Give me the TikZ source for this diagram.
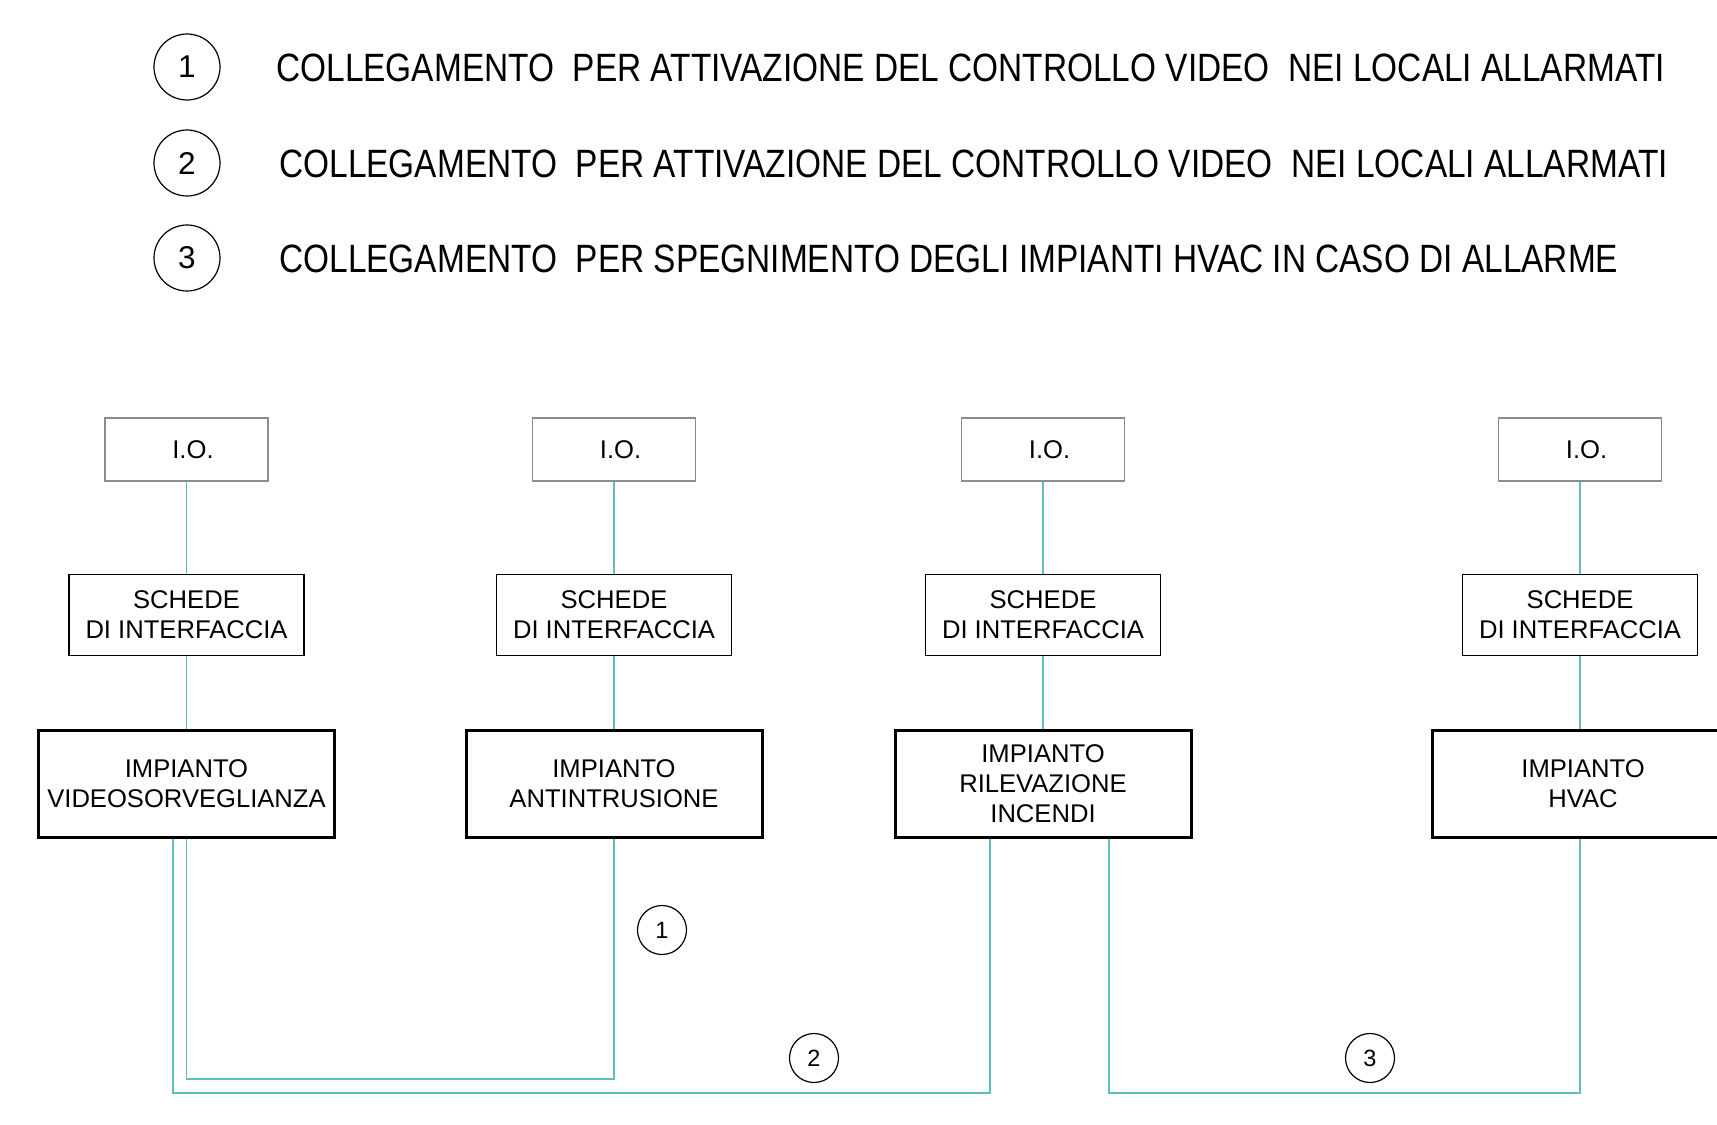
\documentclass[tikz,border=0pt]{standalone}
\usepackage{fontspec}
\setmainfont{Liberation Sans}
\usetikzlibrary{positioning}
\definecolor{linkcol}{RGB}{95,190,190}
\tikzset{
	iobox/.style={draw=black!45, line width=0.75pt, minimum width=81.5pt, minimum height=31.5pt, inner sep=0pt, font=\fontsize{12.8}{15}\selectfont},
	cardbox/.style={draw, line width=0.7pt, minimum width=117.5pt, minimum height=40.5pt, inner sep=0pt, align=center, font=\fontsize{12.8}{15}\selectfont},
	plantbox/.style={draw, line width=1.5pt, minimum width=148pt, minimum height=53.5pt, inner sep=0pt, align=center, font=\fontsize{12.8}{15}\selectfont},
	link/.style={draw=linkcol, line width=0.75pt},
	legnum/.style={circle, draw, line width=0.6pt, minimum size=33pt, inner sep=0pt, font=\fontsize{15.75}{18}\selectfont},
	tag/.style={circle, draw, line width=0.6pt, minimum size=24.5pt, inner sep=0pt, font=\fontsize{11.75}{14}\selectfont},
	legtext/.style={anchor=west, inner sep=0pt, xscale=0.846, transform shape, font=\fontsize{19.75}{22}\selectfont}
}

\begin{document}
\begin{tikzpicture}[x=0.5pt, y=-0.5pt, node distance=46pt]
	\useasboundingbox (0,0) rectangle (1717,1124);
	% legend
	\node[legnum] (n1) at (187,67) {1};
	\node[legnum] (n2) at (187,163) {2};
	\node[legnum] (n3) at (187,258) {3};
	\node[legtext] (t1) at (276,68) {COLLEGAMENTO\ \ PER ATTIVAZIONE DEL CONTROLLO VIDEO\ \ NEI LOCALI ALLARMATI};
	\node[legtext] (t2) at (279,164) {COLLEGAMENTO\ \ PER ATTIVAZIONE DEL CONTROLLO VIDEO\ \ NEI LOCALI ALLARMATI};
	\node[legtext] (t3) at (279,259) {COLLEGAMENTO\ \ PER SPEGNIMENTO DEGLI IMPIANTI HVAC IN CASO DI ALLARME};
	% columns
	\node[iobox] (io1) at (186.5,449.5) {\hspace{6.5pt}I.O.};
	\node[iobox] (io2) at (614,449.5) {\hspace{6.5pt}I.O.};
	\node[iobox] (io3) at (1043,449.5) {\hspace{6.5pt}I.O.};
	\node[iobox] (io4) at (1580,449.5) {\hspace{6.5pt}I.O.};
	\node[cardbox, below=of io1] (sch1) {SCHEDE\\DI INTERFACCIA};
	\node[cardbox, below=of io2] (sch2) {SCHEDE\\DI INTERFACCIA};
	\node[cardbox, below=of io3] (sch3) {SCHEDE\\DI INTERFACCIA};
	\node[cardbox, below=of io4] (sch4) {SCHEDE\\DI INTERFACCIA};
	\node[plantbox, below=36.4pt of sch1] (imp1) {IMPIANTO\\VIDEOSORVEGLIANZA};
	\node[plantbox, below=36.4pt of sch2] (imp2) {IMPIANTO\\ANTINTRUSIONE};
	\node[plantbox, below=36.4pt of sch3] (imp3) {IMPIANTO\\RILEVAZIONE\\INCENDI};
	\node[plantbox, below=36.4pt of sch4] (imp4) {\hspace{3pt}IMPIANTO\\\hspace{3pt}HVAC};
	\foreach \i in {1,...,4}{
		\draw[link] (io\i) -- (sch\i);
		\draw[link] (sch\i) -- (imp\i);
	}
	% connections
	\coordinate (low1) at (0,1079);
	\coordinate (low2) at (0,1093);
	\coordinate (v2) at ([xshift=-6.75pt]imp1.south);
	\coordinate (f1) at ([xshift=-26.5pt]imp3.south);
	\coordinate (f2) at ([xshift=33pt]imp3.south);
	\draw[link] (imp1.south) |- (imp2.south |- low1) -- (imp2.south);
	\draw[link] (v2) |- (f1 |- low2) -- (f1);
	\draw[link] (f2) |- (imp4.south |- low2) -- (imp4.south);
	\node[tag] (c1) at (662,930) {1};
	\node[tag] (c2) at (814,1058) {2};
	\node[tag] (c3) at (1370,1058) {3};
\end{tikzpicture}
\end{document}
